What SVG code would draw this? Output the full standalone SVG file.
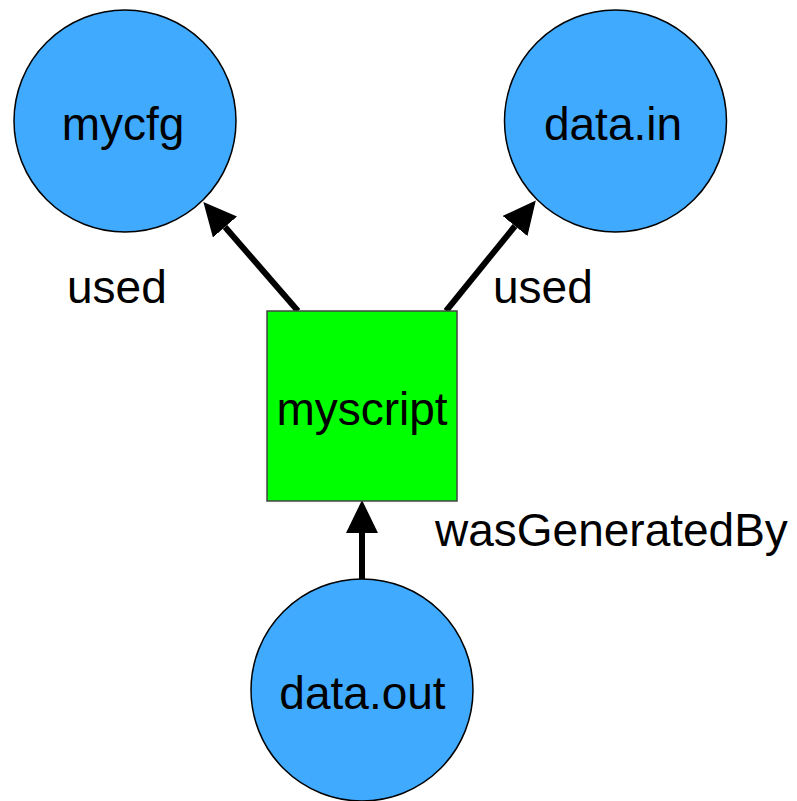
<svg xmlns="http://www.w3.org/2000/svg" width="797" height="801" viewBox="0 0 797 801">
  <style>
    .entity { fill: #40aaff; stroke: #000; stroke-width: 1.5; }
    .activity { fill: #00ff00; stroke: #444; stroke-width: 1.5; }
    .label { font-family: "Liberation Sans", Arial, sans-serif; font-size: 46px; fill: #000; }
    .edge { stroke: #000; stroke-width: 6; fill: none; }
  </style>
  <defs>
    <marker id="head" viewBox="0 0 33 32" refX="0" refY="16" markerWidth="33" markerHeight="32" markerUnits="userSpaceOnUse" orient="auto">
      <path d="M0,0 L33,16 L0,32 z" fill="#000"/>
    </marker>
  </defs>

  <g id="edges">
    <path class="edge" d="M298,311 L225,227" marker-end="url(#head)"/>
    <path class="edge" d="M446,311 L515,226" marker-end="url(#head)"/>
    <path class="edge" d="M362,579 L362,533" marker-end="url(#head)"/>
    <text class="label" x="67" y="303">used</text>
    <text class="label" x="493" y="303">used</text>
    <text class="label" x="435" y="546">wasGeneratedBy</text>
  </g>

  <g id="mycfg">
    <circle class="entity" cx="125" cy="121" r="111"/>
    <text class="label" x="123" y="140" text-anchor="middle">mycfg</text>
  </g>

  <g id="data.in">
    <circle class="entity" cx="615.5" cy="121" r="111"/>
    <text class="label" x="613" y="140" text-anchor="middle">data.in</text>
  </g>

  <g id="myscript">
    <rect class="activity" x="267" y="311" width="190" height="190"/>
    <text class="label" x="362" y="425" text-anchor="middle">myscript</text>
  </g>

  <g id="data.out">
    <circle class="entity" cx="362" cy="690" r="111"/>
    <text class="label" x="362.5" y="709" text-anchor="middle">data.out</text>
  </g>
</svg>
